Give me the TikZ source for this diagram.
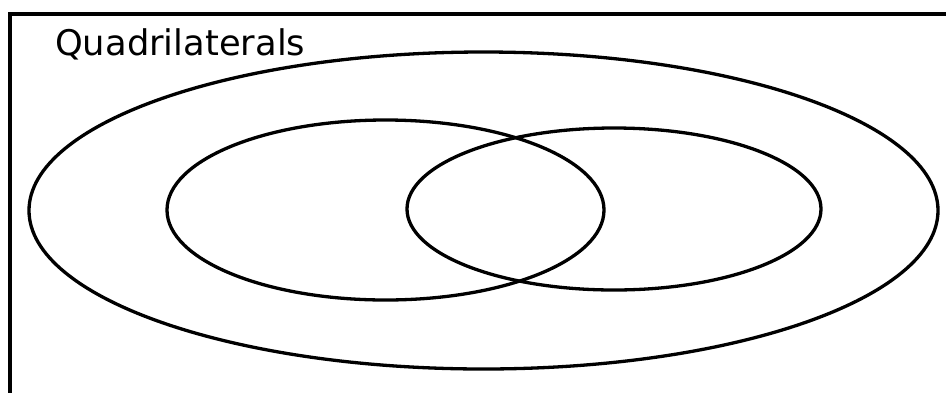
\documentclass[tikz,border=0pt]{standalone}
\usepackage{fontspec}
\setmainfont{DejaVu Sans}
\begin{document}
\begin{tikzpicture}[x=1pt,y=-1pt,
  frame/.style={line width=4pt},
  set/.style={line width=3.3pt}]
\useasboundingbox (0,0) rectangle (946,392);
\fill[white] (0,0) rectangle (946,392);
\coordinate (fbl) at (9.5,400);
\coordinate (ftl) at (9.5,14);
\coordinate (ftr) at (960,14);
\draw[frame] (fbl) -- (ftl) -- (ftr);
\draw[set] (483.5,210.5) ellipse [x radius=454.5, y radius=158.5];
\draw[set] (385.5,210) ellipse [x radius=218.5, y radius=90];
\draw[set] (614,209) ellipse [x radius=207, y radius=81];
\node[anchor=base west, inner sep=0pt, font=\fontsize{28}{30}\selectfont] (title) at (55,55) {\resizebox{250pt}{!}{Quadrilaterals}};
\end{tikzpicture}
\end{document}
